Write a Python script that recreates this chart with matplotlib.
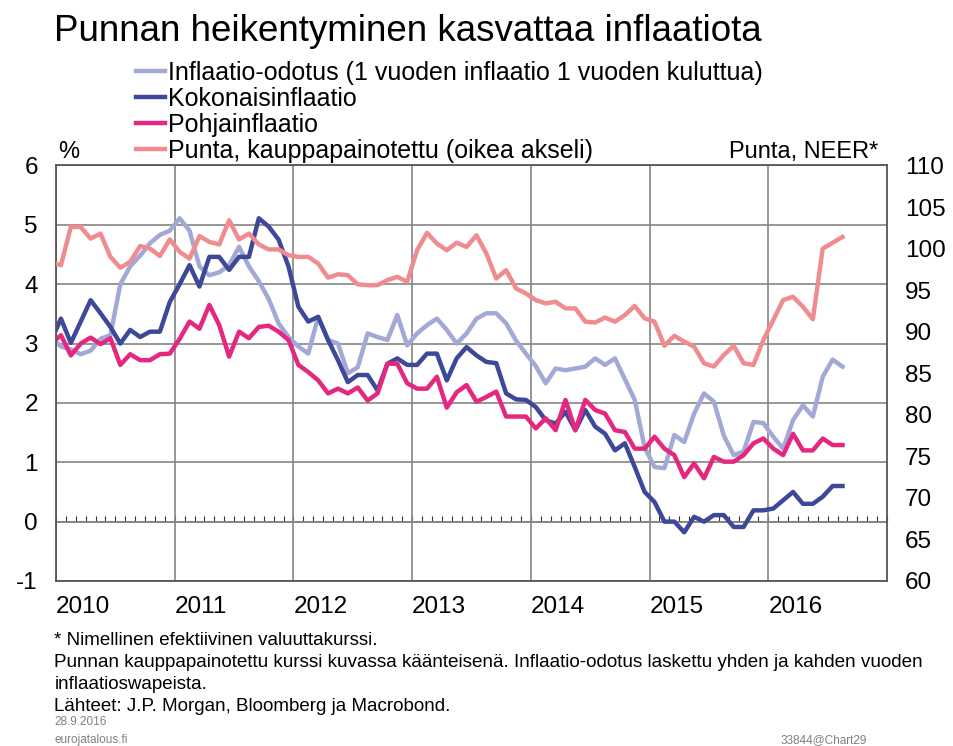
import numpy as np
import pandas as pd
import matplotlib
matplotlib.use("Agg")
import matplotlib.pyplot as plt
import matplotlib.transforms as mtransforms

plt.rcParams['font.family'] = ['Liberation Sans', 'DejaVu Sans']
plt.rcParams['axes.unicode_minus'] = False

# kuukausittaiset havainnot 12/2009 - 8/2016
months = pd.date_range("2009-12-01", "2016-08-01", freq="MS")

odotus = [3.1,
          2.95, 2.9, 2.82, 2.88, 3.08, 3.14, 4.0, 4.3, 4.48, 4.69, 4.83, 4.9,
          5.11, 4.9, 4.3, 4.15, 4.2, 4.32, 4.63, 4.3, 4.05, 3.75, 3.34, 3.11,
          2.95, 2.83, 3.45, 3.06, 3.0, 2.5, 2.6, 3.17, 3.11, 3.06, 3.48, 2.97,
          3.17, 3.31, 3.42, 3.23, 3.0, 3.17, 3.42, 3.51, 3.51, 3.34, 3.05, 2.83,
          2.62, 2.33, 2.58, 2.55, 2.58, 2.61, 2.75, 2.64, 2.75, 2.4, 2.05, 1.25,
          0.92, 0.9, 1.46, 1.34, 1.82, 2.16, 2.02, 1.45, 1.12, 1.18, 1.68, 1.66,
          1.43, 1.23, 1.71, 1.96, 1.77, 2.44, 2.73, 2.61]

kokonais = [3.04,
            3.42, 3.01, 3.37, 3.73, 3.51, 3.28, 3.0, 3.23, 3.11, 3.2, 3.2, 3.7,
            4.0, 4.32, 3.96, 4.46, 4.46, 4.24, 4.46, 4.46, 5.11, 4.97, 4.75, 4.3,
            3.62, 3.37, 3.45, 3.06, 2.72, 2.35, 2.47, 2.47, 2.21, 2.66, 2.75, 2.64,
            2.64, 2.83, 2.83, 2.38, 2.75, 2.94, 2.8, 2.69, 2.67, 2.16, 2.06, 2.05,
            1.93, 1.71, 1.65, 1.85, 1.54, 1.88, 1.6, 1.48, 1.2, 1.32, 0.92, 0.5,
            0.33, 0.0, 0.0, -0.18, 0.08, 0.0, 0.11, 0.11, -0.09, -0.09, 0.19, 0.19,
            0.22, 0.36, 0.5, 0.3, 0.3, 0.42, 0.6, 0.6]

pohjain = [3.0,
           3.14, 2.8, 3.0, 3.1, 2.99, 3.09, 2.64, 2.82, 2.72, 2.72, 2.82, 2.83,
           3.08, 3.37, 3.25, 3.65, 3.31, 2.78, 3.2, 3.09, 3.28, 3.3, 3.2, 3.06,
           2.64, 2.52, 2.38, 2.16, 2.24, 2.16, 2.26, 2.04, 2.16, 2.66, 2.66, 2.33,
           2.24, 2.24, 2.44, 1.92, 2.18, 2.3, 2.02, 2.1, 2.19, 1.77, 1.77, 1.77,
           1.57, 1.74, 1.54, 2.05, 1.54, 2.05, 1.88, 1.82, 1.54, 1.51, 1.23, 1.23,
           1.43, 1.23, 1.12, 0.75, 0.98, 0.73, 1.09, 1.01, 1.01, 1.12, 1.32, 1.4,
           1.23, 1.12, 1.48, 1.2, 1.2, 1.4, 1.29, 1.29]

punta = [98.4,
         98.0, 102.6, 102.6, 101.2, 101.8, 99.0, 97.7, 98.4, 100.3, 100.0, 99.1, 101.1,
         99.6, 98.8, 101.5, 100.8, 100.5, 103.4, 101.1, 101.8, 100.5, 99.9, 99.9, 99.2,
         99.0, 99.0, 98.2, 96.5, 96.9, 96.8, 95.7, 95.6, 95.6, 96.2, 96.6, 96.0,
         99.8, 101.9, 100.6, 99.8, 100.7, 100.2, 101.6, 99.4, 96.4, 97.4, 95.2, 94.6,
         93.8, 93.4, 93.6, 92.8, 92.8, 91.2, 91.1, 91.7, 91.2, 92.0, 93.1, 91.6,
         91.2, 88.3, 89.5, 88.8, 88.2, 86.2, 85.8, 87.2, 88.3, 86.2, 86.0, 89.0,
         91.4, 93.8, 94.2, 93.0, 91.5, 100.0, 100.7, 101.4]

years = list(range(2010, 2017))

# kuukauden keskikohta vuosina
x = months.year + (months.month - 0.5) / 12

c_odotus = "#a3a9d6"
c_koko = "#3d4899"
c_pohja = "#e5287f"
c_punta = "#f08c90"
grid_c = "#858585"

fig = plt.figure(figsize=(9.54, 7.46), dpi=100)
ax = fig.add_axes([0.0587, 0.2212, 0.8711, 0.557])

l1, = ax.plot(x, odotus, color=c_odotus, lw=3.2)
l2, = ax.plot(x, kokonais, color=c_koko, lw=3.2)
l3, = ax.plot(x, pohjain, color=c_pohja, lw=3.2)

ax.set_xlim(2010, 2017)
ax.set_ylim(-1, 6)
ax.set_yticks(range(-1, 7))
ax.set_xticks(years)
ax.set_xticklabels([str(y) for y in years], ha="left")
shift = mtransforms.ScaledTranslation(-4 / 100, 0, fig.dpi_scale_trans)
for lab in ax.get_xticklabels():
    lab.set_transform(lab.get_transform() + shift)
ax.grid(True, color=grid_c, lw=1.2)
ax.tick_params(length=0, labelsize=17.5)
ax.tick_params(axis="y", pad=13)
ax.tick_params(axis="x", pad=11)
for s in ax.spines.values():
    s.set_color("#555555")
    s.set_linewidth(1.3)

# kuukausimerkit nollaviivalla
zero = ax.secondary_xaxis(1 / 7)
zero.set_xticks(np.arange(2010, 2017 + 1e-9, 1 / 12))
zero.tick_params(direction="in", length=4, width=0.8, color="#333333", labelbottom=False)
zero.spines["bottom"].set_color(grid_c)
zero.spines["bottom"].set_linewidth(1.2)

ax2 = ax.twinx()
l4, = ax2.plot(x, punta, color=c_punta, lw=3.2)
ax2.set_ylim(60, 110)
ax2.set_yticks(range(60, 111, 5))
ax2.tick_params(length=0, labelsize=17.5, pad=13)
for s in ax2.spines.values():
    s.set_visible(False)

ax.text(0.002, 1.005, "%", transform=ax.transAxes, fontsize=17, va="bottom", ha="left")
ax.text(0.99, 1.005, "Punta, NEER*", transform=ax.transAxes, fontsize=17, va="bottom", ha="right")

fig.text(0.057, 0.958, "Punnan heikentyminen kasvattaa inflaatiota", fontsize=26.5, va="center")

fig.legend([l1, l2, l3, l4],
           ["Inflaatio-odotus (1 vuoden inflaatio 1 vuoden kuluttua)",
            "Kokonaisinflaatio", "Pohjainflaatio",
            "Punta, kauppapainotettu (oikea akseli)"],
           loc="upper left", bbox_to_anchor=(0.143, 0.918), frameon=False,
           fontsize=18, handlelength=1.15, handletextpad=0.12,
           labelspacing=0.08, borderaxespad=0, borderpad=0)

fig.text(0.057, 0.142, "* Nimellinen efektiivinen valuuttakurssi.", fontsize=13.5, va="center")
fig.text(0.057, 0.112, "Punnan kauppapainotettu kurssi kuvassa käänteisenä. Inflaatio-odotus laskettu yhden ja kahden vuoden",
         fontsize=13.6, va="center")
fig.text(0.057, 0.082, "inflaatioswapeista.", fontsize=13.5, va="center")
fig.text(0.057, 0.053, "Lähteet: J.P. Morgan, Bloomberg ja Macrobond.", fontsize=13.5, va="center")
fig.text(0.057, 0.032, "28.9.2016", fontsize=8.5, color="#808080", va="center")
fig.text(0.057, 0.008, "eurojatalous.fi", fontsize=8.5, color="#808080", va="center")
fig.text(0.818, 0.008, "33844@Chart29", fontsize=8.5, color="#808080", va="center")

fig.savefig("out.png", dpi=100)
